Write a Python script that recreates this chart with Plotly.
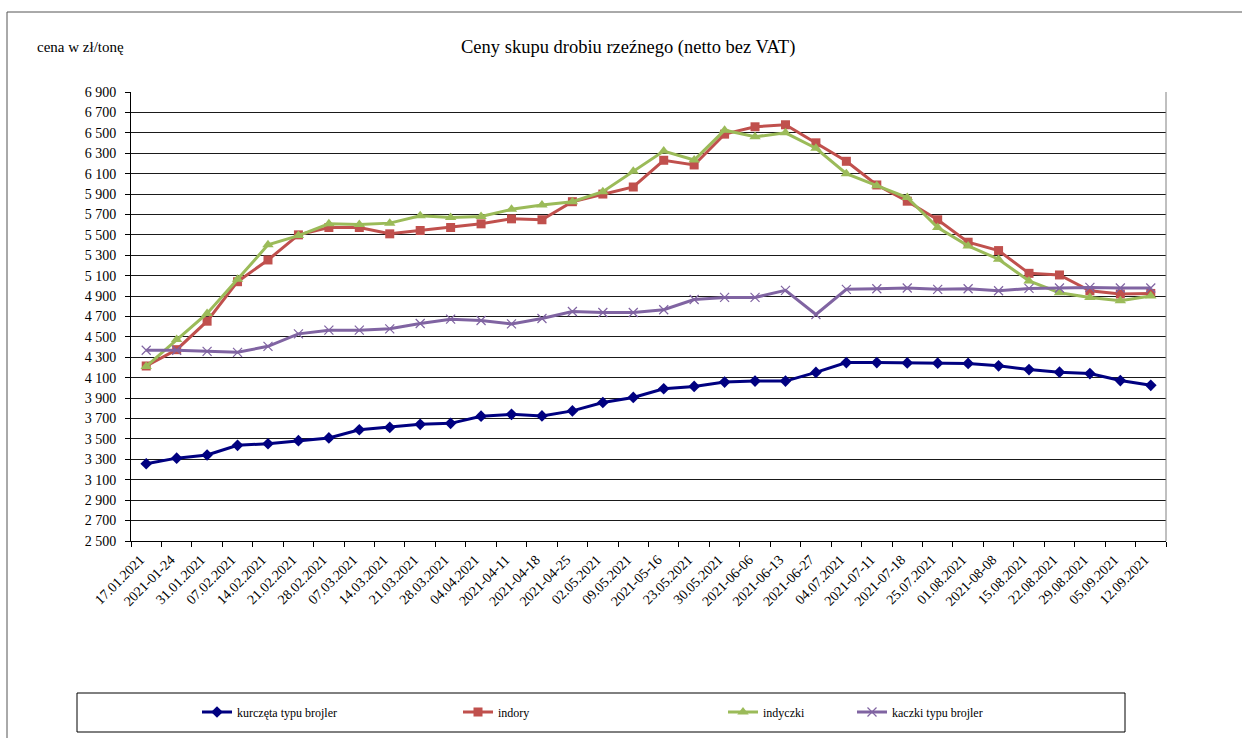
import plotly.graph_objects as go

categories = ["17.01.2021", "2021-01-24", "31.01.2021", "07.02.2021", "14.02.2021", "21.02.2021",
              "28.02.2021", "07.03.2021", "14.03.2021", "21.03.2021", "28.03.2021", "04.04.2021",
              "2021-04-11", "2021-04-18", "2021-04-25", "02.05.2021", "09.05.2021", "2021-05-16",
              "23.05.2021", "30.05.2021", "2021-06-06", "2021-06-13", "2021-06-27", "04.07.2021",
              "2021-07-11", "2021-07-18", "25.07.2021", "01.08.2021", "2021-08-08", "15.08.2021",
              "22.08.2021", "29.08.2021", "05.09.2021", "12.09.2021"]

kurczeta = [3257, 3312, 3343, 3438, 3453, 3483, 3510, 3590, 3613, 3643, 3653, 3723, 3741, 3726,
            3775, 3857, 3907, 3992, 4015, 4057, 4067, 4067, 4152, 4248, 4248, 4245, 4243, 4240,
            4217, 4180, 4154, 4141, 4072, 4026]
indory = [4215, 4375, 4654, 5041, 5254, 5500, 5572, 5572, 5510, 5543, 5572, 5608, 5657, 5648,
          5825, 5900, 5969, 6231, 6185, 6487, 6559, 6579, 6402, 6221, 5989, 5830, 5648, 5428,
          5346, 5123, 5107, 4952, 4920, 4926]
indyczki = [4211, 4474, 4730, 5064, 5402, 5493, 5608, 5602, 5615, 5687, 5670, 5680, 5750, 5792,
            5825, 5923, 6123, 6321, 6234, 6526, 6461, 6500, 6349, 6100, 5982, 5866, 5572, 5392,
            5261, 5048, 4933, 4887, 4854, 4900]
kaczki = [4369, 4369, 4359, 4349, 4408, 4530, 4566, 4566, 4579, 4631, 4674, 4661, 4627, 4680,
          4749, 4739, 4739, 4766, 4867, 4887, 4887, 4956, 4720, 4966, 4972, 4979, 4966, 4972,
          4952, 4975, 4979, 4985, 4979, 4979]

y_ticks = [2500, 2700, 2900, 3100, 3300, 3500, 3700, 3900, 4100, 4300, 4500, 4700, 4900,
           5100, 5300, 5500, 5700, 5900, 6100, 6300, 6500, 6700, 6900]
y_tick_labels = ["2 500", "2 700", "2 900", "3 100", "3 300", "3 500", "3 700", "3 900",
                 "4 100", "4 300", "4 500", "4 700", "4 900", "5 100", "5 300", "5 500",
                 "5 700", "5 900", "6 100", "6 300", "6 500", "6 700", "6 900"]

title_text = "Ceny skupu drobiu rzeźnego (netto bez VAT)"
unit_text = "cena w zł/tonę"

FONT = "Liberation Serif, Times New Roman, serif"

W, H = 1242, 738
L, R, T, B = 131, 1166, 92, 541


def px(x):
    return (x - L) / (R - L)


def py(y):
    return (B - y) / (B - T)


series = [
    ("kurczęta typu brojler", kurczeta, "#000080", dict(symbol="diamond", size=9), "legend"),
    ("indory", indory, "#C0504D", dict(symbol="square", size=9), "legend2"),
    ("indyczki", indyczki, "#9BBB59", dict(symbol="triangle-up", size=10), "legend3"),
    ("kaczki typu brojler", kaczki, "#8064A2",
     dict(symbol="x-thin-open", size=9, line=dict(width=1.2, color="#8064A2")), "legend4"),
]

fig = go.Figure()
for name, vals, color, mk, lg in series:
    marker = dict(color=color, **mk)
    fig.add_trace(go.Scatter(x=categories, y=vals, name=name, mode="lines+markers",
                             line=dict(color=color, width=3), marker=marker, legend=lg))

legend_x = [207, 468, 733, 862]
legends = {}
for i, lx in enumerate(legend_x):
    key = "legend" if i == 0 else f"legend{i+1}"
    legends[key] = dict(x=px(lx - 10), y=py(712), xanchor="left", yanchor="middle",
                        orientation="h", bgcolor="rgba(0,0,0,0)",
                        font=dict(family=FONT, size=12, color="#000"))

fig.update_layout(
    width=W, height=H,
    margin=dict(l=L, r=W - R, t=T, b=H - B, autoexpand=False),
    paper_bgcolor="white", plot_bgcolor="white",
    font=dict(family=FONT, size=12, color="#000"),
    showlegend=True,
    **legends,
    xaxis=dict(type="category", tickangle=-45, tickson="boundaries", ticks="outside",
               ticklen=5, tickcolor="#000", showline=True, linecolor="#000", linewidth=1,
               showgrid=False, tickfont=dict(family=FONT, size=14, color="#000"),
               ticklabelshift=-6, ticklabelstandoff=4,
               range=[-0.5, len(categories) - 0.5], fixedrange=True),
    yaxis=dict(range=[2500, 6900], tickvals=y_ticks, ticktext=y_tick_labels, ticks="outside",
               ticklen=5, tickcolor="#000", showline=True, linecolor="#000", linewidth=1,
               showgrid=True, gridcolor="#1a1a1a", gridwidth=1, zeroline=False,
               ticklabelstandoff=6,
               tickfont=dict(family=FONT, size=14, color="#000"), fixedrange=True),
    shapes=[
        dict(type="line", xref="paper", yref="paper", x0=1, x1=1, y0=0, y1=1,
             line=dict(color="#808080", width=1)),
        dict(type="rect", xref="paper", yref="paper", x0=px(7), x1=px(1260), y0=py(760), y1=py(12),
             line=dict(color="#555555", width=1), fillcolor="rgba(0,0,0,0)", layer="below"),
        dict(type="rect", xref="paper", yref="paper", x0=px(77), x1=px(1125), y0=py(732), y1=py(693),
             line=dict(color="#000000", width=1), fillcolor="rgba(0,0,0,0)"),
    ],
    annotations=[
        dict(text=title_text, xref="paper", yref="paper", x=px(628), y=py(47),
             xanchor="center", yanchor="middle", showarrow=False,
             font=dict(family=FONT, size=18.5, color="#000")),
        dict(text=unit_text, xref="paper", yref="paper", x=px(35), y=py(47),
             xanchor="left", yanchor="middle", showarrow=False,
             font=dict(family=FONT, size=15, color="#000")),
    ],
)

fig.write_html("out.html", config={"displayModeBar": False},
               post_script="document.body.style.margin='0';")
